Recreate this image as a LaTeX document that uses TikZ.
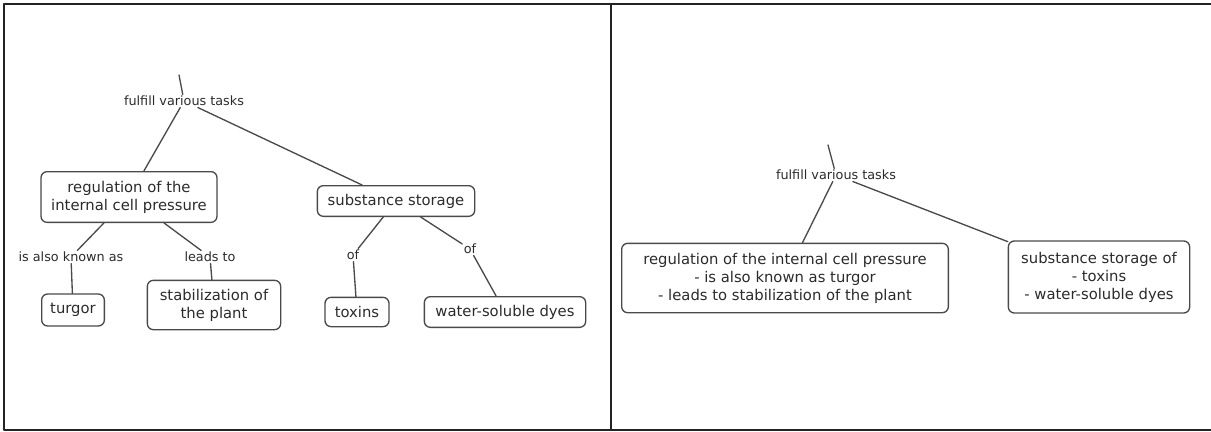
\documentclass[tikz,border=0pt]{standalone}
\usepackage{fontspec}
\setmainfont{DejaVu Sans}
\usepackage{xcolor}
\definecolor{mapline}{HTML}{4A4A4A}
\definecolor{maptext}{HTML}{2B2B2B}
\definecolor{frameline}{HTML}{232323}
\tikzset{
every picture/.style={line cap=round,line join=round},
concept box/.style={
  draw=mapline,
  rounded corners=4.5pt,
  line width=1pt,
  align=center,
  inner sep=2pt,
  text=maptext,
  font=\fontsize{11.1}{13.5}\selectfont
},
link label/.style={inner sep=1pt, text=maptext, font=\fontsize{9.6}{11}\selectfont},
map link/.style={draw=mapline, line width=1pt},
panel line/.style={draw=frameline, line width=1.6pt}
}
\begin{document}
\begin{tikzpicture}[x=0.75pt,y=-0.75pt]
\useasboundingbox (0,0) rectangle (1211,432);
% frame of the two panels
\draw[panel line] (1211,4) -- (4,4) -- (4,430) -- (1211,430);
\draw[panel line] (611,4) -- (611,430);

% left panel: full map
\coordinate (lin) at (179,75);
\node[link label] (ltasks) at (184,101) {fulfill various tasks};
\node[concept box,minimum width=132pt,minimum height=38pt] (lreg) at (129,197) {regulation of the\\internal cell pressure};
\node[concept box,minimum width=118pt,minimum height=23pt] (lstore) at (396,201) {substance storage};
\node[link label] (lknown) at (71,257) {is also known as};
\node[link label] (lleads) at (210,257) {leads to};
\node[concept box,minimum width=47pt,minimum height=24pt] (turgor) at (73,310) {turgor};
\node[concept box,minimum width=100pt,minimum height=37pt] (stab) at (214,305) {stabilization of\\the plant};
\node[link label] (lof1) at (353,255) {of};
\node[link label] (lof2) at (470,249) {of};
\node[concept box,minimum width=48pt,minimum height=22pt] (toxins) at (357,312) {toxins};
\node[concept box,minimum width=121pt,minimum height=23pt] (dyes) at (505,312) {water-soluble dyes};
\draw[map link] (lin) -- (ltasks);
\draw[map link] (ltasks) -- (lreg);
\draw[map link] (ltasks) -- (lstore);
\draw[map link] (lreg) -- (lknown);
\draw[map link] (lknown) -- (turgor);
\draw[map link] (lreg) -- (lleads);
\draw[map link] (lleads) -- (stab);
\draw[map link] (lstore) -- (lof1);
\draw[map link] (lof1) -- (toxins);
\draw[map link] (lstore) -- (lof2);
\draw[map link] (lof2) -- (dyes);

% right panel: condensed map
\coordinate (rin) at (828,145);
\node[link label] (rtasks) at (836,175) {fulfill various tasks};
\node[concept box,minimum width=245pt,minimum height=52pt] (rreg) at (785,278) {regulation of the internal cell pressure\\- is also known as turgor\\- leads to stabilization of the plant};
\node[concept box,minimum width=136pt,minimum height=54pt] (rstore) at (1099,277) {substance storage of\\- toxins\\- water-soluble dyes};
\draw[map link] (rin) -- (rtasks);
\draw[map link] (rtasks) -- (rreg);
\draw[map link] (rtasks) -- (rstore);
\end{tikzpicture}
\end{document}
